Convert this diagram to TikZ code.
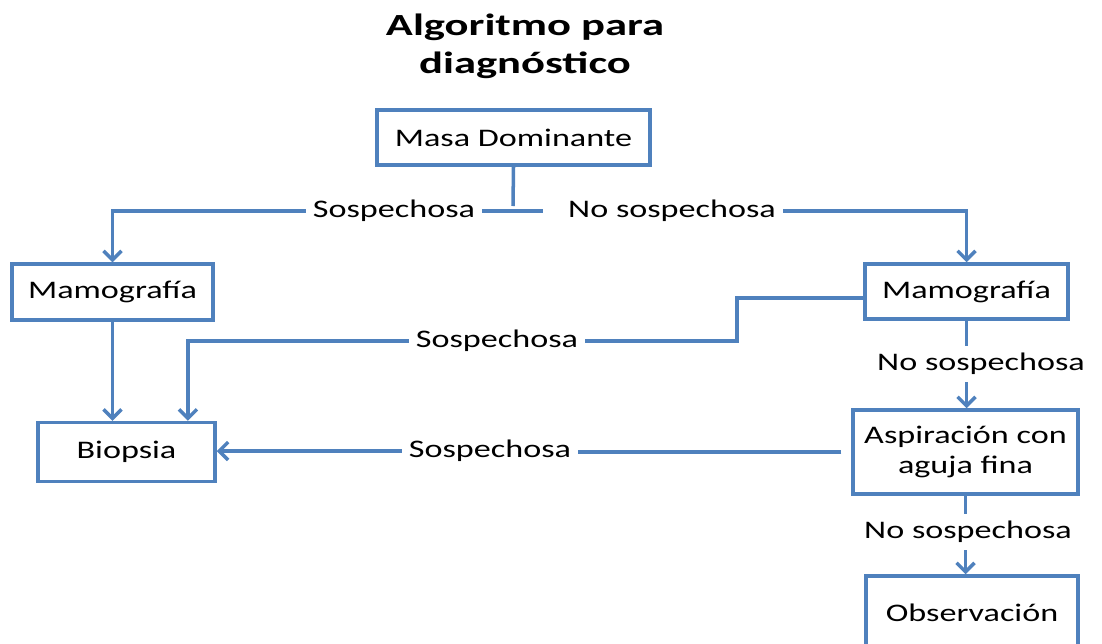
\documentclass[tikz,border=0pt]{standalone}
\usepackage{fontspec}
\setmainfont{Carlito}[FakeStretch=1.35]
\newfontfamily\titlefont{Carlito}[FakeStretch=1.45]
\usetikzlibrary{arrows.meta, positioning}
\definecolor{flowblue}{RGB}{79,129,189}

\begin{document}
\begin{tikzpicture}[x=0.02cm, y=-0.02cm, >={Straight Barb[length=1.8mm,width=3.6mm]},
    box/.style={draw=flowblue, line width=2pt, align=center, inner sep=0pt, font=\fontsize{14.4}{17}\selectfont},
    cond/.style={inner sep=4pt, font=\fontsize{14.4}{17}\selectfont},
    link/.style={draw=flowblue, line width=2pt}]
      \useasboundingbox (0,0) rectangle (1102,643);
      \node[font=\titlefont\bfseries\fontsize{17.5}{21.6}\selectfont, align=center] (title) at (525,46) {Algoritmo para\\ diagnóstico};

      \node[box, minimum width=5.46cm, minimum height=1.1cm] (masa) at (513.5,137.5) {Masa Dominante};
      \node[box, minimum width=4.02cm, minimum height=1.12cm] (mamoL) at (112.5,292) {Mamografía};
      \node[box, minimum width=4.06cm, minimum height=1.1cm] (mamoR) at (966.5,291.5) {Mamografía};
      \node[box, minimum width=3.54cm, minimum height=1.18cm] (biop) at (126.5,452) {Biopsia};
      \node[box, minimum width=4.5cm, minimum height=1.68cm] (asp) at (965.5,452) {Aspiración con\\ aguja fina};
      \node[box, minimum width=4.24cm, minimum height=1.48cm] (obs) at (972,613) {Observación};

      \node[cond] (s1) at (394,211) {Sospechosa};
      \node[cond] (n1) at (672,211) {No sospechosa};
      \node[cond] (s2) at (497,341) {Sospechosa};
      \node[cond] (n2) at (981,364) {No sospechosa};
      \node[cond] (s3) at (490,451) {Sospechosa};
      \node[cond] (n3) at (968,532) {No sospechosa};

      \coordinate (split) at (513,206);
      \coordinate (splitR) at (543,211);
      \coordinate (jog) at (737,298);

      % first split below the dominant mass
      \draw[link] (masa.south) -- (split);
      \draw[link] (s1.east) -- (splitR);
      \draw[link, ->] (s1.west) -| (mamoL.north);
      \draw[link, ->] (n1.east) -| (mamoR.north);
      % left column
      \draw[link, ->] (mamoL.south) -- (mamoL.south |- biop.north);
      % right mammography back to biopsy
      \draw[link] (mamoR.west |- jog) -- (jog) |- (s2.east);
      \draw[link, ->] (s2.west) -| ([xshift=1.23cm]biop.north);
      % right column
      \draw[link] (mamoR.south) -- (mamoR.south |- n2.north);
      \draw[link, ->] (mamoR.south |- n2.south) -- (mamoR.south |- asp.north);
      \draw[link, shorten <=0.2cm] (asp.west) -- (asp.west -| s3.east);
      \draw[link, ->] (s3.west) -- (s3.west -| biop.east);
      \draw[link] (asp.south) -- (asp.south |- n3.north);
      \draw[link, ->] (asp.south |- n3.south) -- (asp.south |- obs.north);
    \end{tikzpicture}
\end{document}
